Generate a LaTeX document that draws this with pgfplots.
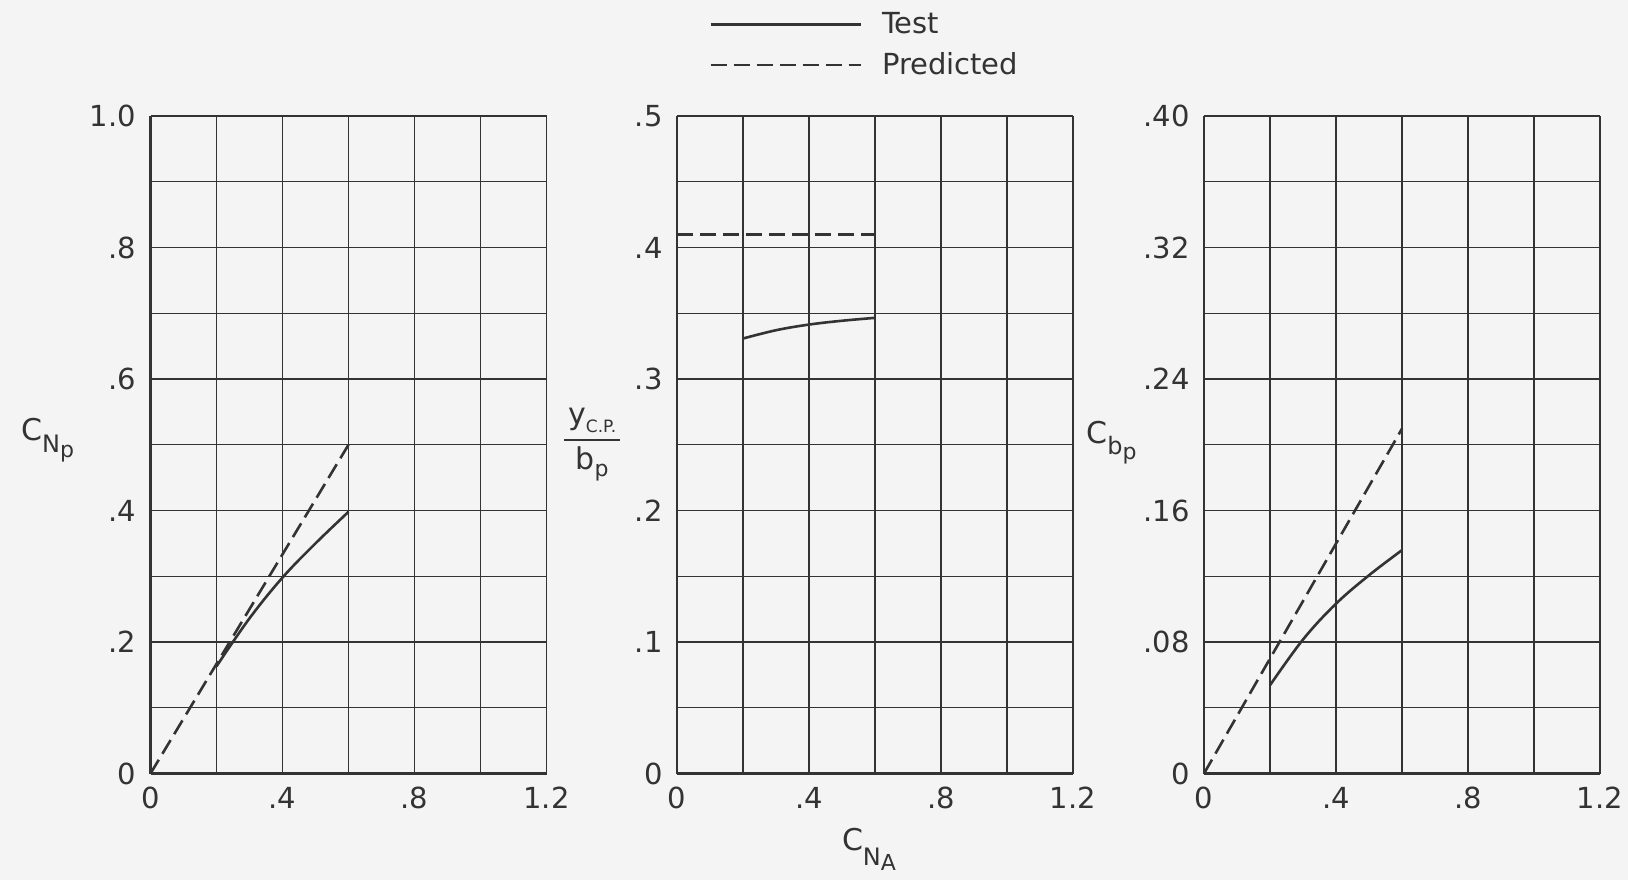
\documentclass[border=0pt]{standalone}
\usepackage{pgfplots}
\pgfplotsset{compat=1.18}
\usepackage{fontspec}
\setmainfont{DejaVu Sans}
\definecolor{ink}{HTML}{333333}
\definecolor{paper}{HTML}{F4F4F4}
\newcommand{\lblfont}{\fontsize{14.5}{17}\selectfont}
\pgfplotsset{
  base/.style={
    scale only axis, width=198pt, height=328.75pt,
    axis lines=left, axis line style={-, line width=1.3pt, draw=ink},
    grid=both,
    grid style={line width=0.65pt, draw=ink},
    minor grid style={line width=0.65pt, draw=ink},
    major tick length=0pt, minor tick length=0pt,
    xmin=0, xmax=1.2, xtick={0,0.4,0.8,1.2}, xticklabels={0,.4,.8,1.2},
    minor xtick={0.2,0.6,1.0},
    tick label style={font=\lblfont, text=ink, inner sep=0pt},
    xticklabel style={anchor=north, yshift=-6.5pt},
    yticklabel style={anchor=east, xshift=-7pt},
    every axis y label/.style={at={(rel axis cs:0,0.5)}, anchor=east, inner sep=0pt, font=\lblfont, text=ink},
    every axis x label/.style={at={(rel axis cs:0.5,0)}, anchor=north, inner sep=0pt, font=\lblfont, text=ink},
  },
  test/.style={line width=1.3pt, draw=ink, smooth, tension=0.6, no marks},
  pred/.style={line width=1.3pt, draw=ink, dash pattern=on 8pt off 3.5pt, no marks},
}
\begin{document}
\begin{tikzpicture}
\fill[paper] (0,0) rectangle (814pt,440pt);
% Panel 1
\begin{axis}[base, at={(75.25pt,53.25pt)}, anchor=south west,
  ymin=0, ymax=1.0, ytick={0,0.2,0.4,0.6,0.8,1.0},
  yticklabels={0,.2,.4,.6,.8,1.0}, minor ytick={0.1,0.3,0.5,0.7,0.9},
  ylabel={\fontsize{15}{17}\selectfont C\raisebox{-6pt}{\fontsize{12}{14}\selectfont N\raisebox{-2.5pt}{\fontsize{11}{12}\selectfont p}}},
  ylabel style={xshift=-38pt, yshift=2.5pt}]
\addplot[test] coordinates {(0.2,0.163) (0.3,0.236) (0.4,0.298) (0.5,0.350) (0.6,0.398)};
\addplot[pred] coordinates {(0,0) (0.6,0.5)};
\end{axis}
% Panel 2
\begin{axis}[base, at={(338.5pt,53.25pt)}, anchor=south west,
  ymin=0, ymax=0.5, ytick={0,0.1,0.2,0.3,0.4,0.5},
  yticklabels={0,.1,.2,.3,.4,.5}, minor ytick={0.05,0.15,0.25,0.35,0.45},
  ylabel={$\displaystyle{\hbox{\kern2pt\fontsize{15}{17}\selectfont y\raisebox{-4pt}{\fontsize{8.5}{10}\selectfont C.P.}\kern2pt}\above 1pt\hbox{\fontsize{15}{17}\selectfont b\raisebox{-3.5pt}{\fontsize{11}{12}\selectfont p}}}$},
  ylabel style={xshift=-27pt},
  xlabel={\fontsize{15}{17}\selectfont C\raisebox{-7.5pt}{\fontsize{12}{14}\selectfont N\raisebox{-2.5pt}{\fontsize{11}{12}\selectfont A}}},
  xlabel style={yshift=-27pt, xshift=-3pt},
  legend style={at={(0,1)}, anchor=north west, xshift=16pt, yshift=53pt,
    draw=none, fill=none, inner sep=0pt, font=\lblfont,
    nodes={inner sep=1pt, text=ink}, row sep=6pt,
    /tikz/every odd column/.append style={column sep=9pt}},
  legend cell align=left,
  legend image code/.code={\draw[#1] (0pt,0pt) -- (75pt,0pt);}]
\addplot[test] coordinates {(0.2,0.3308) (0.3,0.3371) (0.4,0.3414) (0.5,0.3443) (0.6,0.3465)};
\addlegendentry{Test}
\addplot[pred] coordinates {(0,0.41) (0.6,0.41)};
\addlegendentry{Predicted}
\end{axis}
% Panel 3
\begin{axis}[base, at={(602pt,53.25pt)}, anchor=south west,
  ymin=0, ymax=0.4, ytick={0,0.08,0.16,0.24,0.32,0.40},
  yticklabels={0,.08,.16,.24,.32,.40}, minor ytick={0.04,0.12,0.20,0.28,0.36},
  ylabel={\fontsize{15}{17}\selectfont C\raisebox{-5.5pt}{\fontsize{12}{14}\selectfont b\raisebox{-2.5pt}{\fontsize{11}{12}\selectfont p}}},
  ylabel style={xshift=-33.5pt, yshift=1pt}]
\addplot[test] coordinates {(0.2,0.0537) (0.3,0.0815) (0.4,0.1033) (0.5,0.1206) (0.6,0.1359)};
\addplot[pred] coordinates {(0,0) (0.6,0.2098)};
\end{axis}
\pgfresetboundingbox
\useasboundingbox (0,0) rectangle (814pt,440pt);
\end{tikzpicture}
\end{document}
